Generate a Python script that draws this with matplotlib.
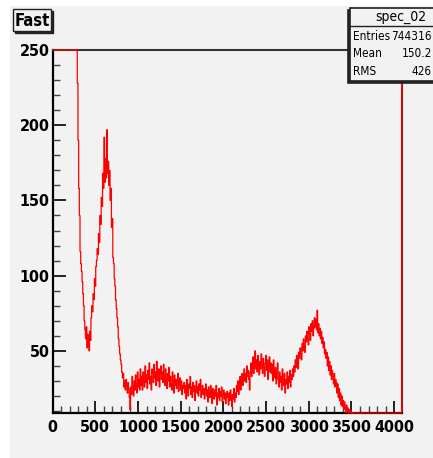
import numpy as np
import matplotlib
matplotlib.use("Agg")
import matplotlib.pyplot as plt
from matplotlib.patches import Rectangle

# Histograma "spec_02" (ROOT), 512 bins de 8 canales entre 0 y 4096
canal_max = 4096
n_bins = 512

cuentas = [
    # 0 - 255 (fuera de escala)
    90000, 80000, 70000, 60000, 52000, 45000, 38000, 32000, 27000, 22000, 18000, 15000, 12000, 10000, 8500, 7000,
    5800, 4800, 4000, 3300, 2700, 2200, 1800, 1500, 1250, 1050, 900, 780, 680, 590, 520, 460,
    # 256 - 511
    400, 340, 290, 252, 228, 190, 158, 140, 116, 108, 103, 96, 88, 80, 70, 64,
    58, 66, 52, 61, 55, 50, 63, 57, 72, 80, 76, 88, 84, 98, 93, 106,
    # 512 - 767
    110, 118, 114, 128, 122, 140, 134, 152, 146, 168, 158, 192, 162, 178, 165, 197,
    168, 176, 160, 170, 150, 158, 132, 138, 112, 108, 98, 93, 84, 78, 72, 66,
    # 768 - 1023
    58, 53, 48, 44, 41, 36, 32, 35, 26, 30, 24, 31, 27, 22, 29, 25,
    19, 11, 26, 21, 33, 27, 20, 30, 24, 34, 28, 22, 36, 26, 31, 24,
    # 1024 - 1279
    38, 27, 33, 24, 36, 30, 26, 40, 29, 34, 25, 37, 31, 42, 28, 33,
    24, 38, 35, 29, 41, 32, 36, 27, 43, 34, 30, 38, 26, 35, 40, 31,
    # 1280 - 1535
    36, 29, 41, 33, 27, 38, 31, 25, 35, 30, 39, 26, 33, 28, 24, 36,
    30, 22, 34, 27, 31, 25, 29, 35, 23, 28, 32, 24, 30, 21, 27, 25,
    # 1536 - 1791
    29, 22, 27, 18, 31, 24, 20, 28, 25, 33, 21, 26, 19, 29, 23, 27,
    17, 25, 30, 22, 26, 20, 28, 24, 31, 19, 23, 27, 21, 25, 18, 24,
    # 1792 - 2047
    28, 20, 24, 16, 26, 22, 19, 27, 23, 15, 25, 21, 18, 24, 20, 27,
    14, 22, 19, 25, 17, 23, 20, 26, 16, 21, 24, 18, 22, 15, 20, 23,
    # 2048 - 2303
    19, 14, 22, 17, 24, 20, 13, 21, 18, 25, 16, 22, 19, 27, 23, 30,
    21, 26, 33, 24, 29, 35, 27, 32, 38, 30, 35, 29, 40, 33, 37, 31,
    # 2304 - 2559
    24, 36, 42, 33, 39, 46, 35, 41, 50, 38, 44, 36, 47, 40, 34, 43,
    38, 48, 41, 35, 45, 39, 33, 42, 47, 37, 44, 31, 40, 46, 36, 42,
    # 2560 - 2815
    35, 41, 30, 44, 37, 32, 39, 28, 35, 42, 31, 26, 36, 29, 33, 24,
    38, 30, 27, 35, 22, 31, 28, 36, 25, 33, 29, 37, 26, 34, 31, 38,
    # 2816 - 3071
    33, 40, 36, 44, 39, 47, 42, 38, 49, 45, 52, 48, 44, 55, 50, 58,
    53, 49, 60, 56, 63, 58, 54, 66, 61, 57, 68, 63, 70, 60, 65, 72,
    # 3072 - 3327
    66, 71, 64, 77, 62, 68, 60, 65, 58, 63, 55, 59, 52, 56, 48, 51,
    45, 49, 40, 46, 37, 43, 34, 40, 31, 37, 33, 28, 35, 26, 31, 29,
    # 3328 - 3583
    22, 28, 19, 25, 17, 22, 14, 20, 13, 17, 11, 16, 12, 9, 14, 10,
    12, 8, 11, 9, 10, 7, 9, 6, 8, 5, 7, 4, 6, 5, 4, 5,
    # 3584 - 3839
    4, 3, 5, 2, 4, 3, 3, 2, 4, 2, 3, 3, 2, 4, 2, 3,
    2, 3, 2, 2, 3, 1, 2, 3, 2, 2, 1, 2, 3, 2, 1, 2,
    # 3840 - 4095 (el ultimo canal esta saturado)
    2, 1, 2, 2, 1, 2, 1, 1, 2, 1, 2, 1, 1, 2, 1, 1,
    1, 2, 1, 1, 1, 2, 1, 1, 1, 1, 2, 1, 1, 1, 1, 40000,
]

titulo = "Fast"
nombre_hist = "spec_02"
stats_nombres = ["Entries", "Mean", "RMS"]
stats_valores = ["744316", "150.2", "426"]

y_min, y_max = 8.7, 250
x_ticks = [0, 500, 1000, 1500, 2000, 2500, 3000, 3500, 4000]
y_ticks = [50, 100, 150, 200, 250]

W, H = 433, 458
fuente = "DejaVu Sans"
gris = "#f2f2f2"


def px(x, y, w=0, h=0):
    # caja en pixeles (origen arriba a la izquierda) -> fraccion de figura
    return (x / W, 1 - (y + h) / H, w / W, h / H)


fig = plt.figure(figsize=(W / 100, H / 100), dpi=100, facecolor="white")
x0, y0, w0, h0 = px(10, 6, W - 10, H - 6)
fig.patches.append(Rectangle((x0, y0), w0, h0, transform=fig.transFigure,
                             facecolor=gris, edgecolor="none", zorder=-5))

ax = fig.add_axes(px(52.7, 50, 349.6, 363))
ax.set_facecolor(gris)

bordes = np.linspace(0, canal_max, n_bins + 1)
valores = np.clip(np.array(cuentas, dtype=float), y_min, y_max)
ax.stairs(valores, bordes, color="red", lw=0.9, baseline=None, clip_on=False, zorder=3)

ax.set_xlim(0, canal_max)
ax.set_ylim(y_min, y_max)
ax.set_xticks(x_ticks)
ax.set_yticks(y_ticks)
ax.set_xticks(np.arange(0, canal_max, 100), minor=True)
ax.set_yticks(np.arange(10, 251, 10), minor=True)
ax.tick_params(which="major", direction="in", length=9, width=1.2, color="black")
ax.tick_params(which="minor", direction="in", length=5, width=1, color="#444444")
ax.tick_params(axis="x", pad=5)
ax.tick_params(axis="y", pad=2)
for lab in ax.get_xticklabels() + ax.get_yticklabels():
    lab.set_family(fuente)
    lab.set_fontstretch("condensed")
    lab.set_fontweight("bold")
    lab.set_fontsize(11.5)

ax.spines["left"].set_linewidth(1.6)
ax.spines["bottom"].set_linewidth(1.6)
ax.spines["top"].set_color("#333333")
ax.spines["top"].set_linewidth(1.5)
ax.spines["right"].set_color("#8b1a1a")
ax.spines["right"].set_linewidth(1.5)

# caja del titulo con sombra
for (bx, by, bw, bh, fc) in [(15, 11, 38, 22, "#222222"), (13, 9, 38, 22, gris)]:
    fx, fy, fw, fh = px(bx, by, bw, bh)
    fig.patches.append(Rectangle((fx, fy), fw, fh, transform=fig.transFigure,
                                 facecolor=fc, edgecolor="#222222", lw=1, zorder=5))
fig.text(32 / W, 1 - 20.5 / H, titulo, ha="center", va="center", family=fuente,
         fontstretch="condensed", fontweight="bold", fontsize=12, zorder=6)

# caja de estadisticas
for (bx, by, bw, bh, fc) in [(348, 10, 90, 73, "#222222"), (350, 8, 90, 73, gris)]:
    fx, fy, fw, fh = px(bx, by, bw, bh)
    fig.patches.append(Rectangle((fx, fy), fw, fh, transform=fig.transFigure,
                                 facecolor=fc, edgecolor="#222222", lw=1.2, zorder=5))
lx, ly, lw_, _ = px(350, 25.5, 90, 0)
fig.add_artist(plt.Line2D([lx, lx + lw_], [ly, ly], transform=fig.transFigure,
                          color="#222222", lw=1, zorder=6))
fig.text(401 / W, 1 - 16.5 / H, nombre_hist, ha="center", va="center", family=fuente,
         fontstretch="condensed", fontsize=10, zorder=6)
for k, (nom, val) in enumerate(zip(stats_nombres, stats_valores)):
    yy = 1 - (36 + 17.8 * k) / H
    fig.text(353 / W, yy, nom, ha="left", va="center", family=fuente,
             fontstretch="condensed", fontsize=8.5, zorder=6)
    fig.text(432 / W, yy, val, ha="right", va="center", family=fuente,
             fontstretch="condensed", fontsize=8.5, zorder=6)

fig.savefig("out.png", dpi=100, facecolor="white")
